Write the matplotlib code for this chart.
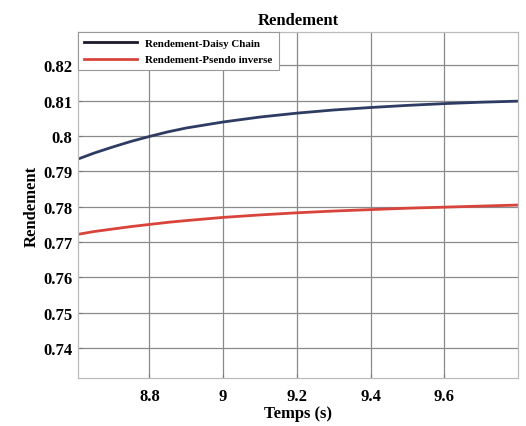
import numpy as np
import matplotlib
matplotlib.use("Agg")
import matplotlib.pyplot as plt

# time samples (s) and efficiency of the two controllers
temps = [8.606, 8.65, 8.7, 8.75, 8.8, 8.85, 8.9, 9.0, 9.1, 9.2, 9.3, 9.4, 9.5, 9.6, 9.7, 9.8]
rend_daisy = [0.7935, 0.7952, 0.7969, 0.7985, 0.7999, 0.8012, 0.8023, 0.8040, 0.8054,
              0.8065, 0.8074, 0.8081, 0.8087, 0.8092, 0.8096, 0.8099]
rend_pseudo = [0.7722, 0.7730, 0.7737, 0.7744, 0.7750, 0.7756, 0.7761, 0.7770, 0.7777,
               0.7783, 0.7788, 0.7792, 0.7796, 0.7799, 0.7802, 0.7805]

xticks = [8.8, 9.0, 9.2, 9.4, 9.6]
xtick_labels = ["8.8", "9", "9.2", "9.4", "9.6"]
yticks = [0.74, 0.75, 0.76, 0.77, 0.78, 0.79, 0.80, 0.81, 0.82]
ytick_labels = ["0.74", "0.75", "0.76", "0.77", "0.78", "0.79", "0.8", "0.81", "0.82"]

plt.rcParams['font.family'] = ['Liberation Serif', 'DejaVu Serif']
plt.rcParams['font.weight'] = 'bold'

fig = plt.figure(figsize=(5.26, 4.27), dpi=100)
ax = fig.add_axes([0.148, 0.112, 0.837, 0.811])

ax.plot(temps, rend_daisy, color='#2e3b63', linewidth=2.0, label='Rendement-Daisy Chain')
ax.plot(temps, rend_pseudo, color='#d8443c', linewidth=2.0, label='Rendement-Psendo inverse')

ax.set_xlim(8.606, 9.8)
ax.set_ylim(0.7315, 0.8295)
ax.set_xticks(xticks)
ax.set_xticklabels(xtick_labels, fontsize=12, fontweight='bold')
ax.set_yticks(yticks)
ax.set_yticklabels(ytick_labels, fontsize=12, fontweight='bold')
ax.tick_params(axis='x', direction='in', length=3, color='#777777', pad=7)
ax.tick_params(axis='y', direction='in', length=3, color='#777777', pad=4)

ax.grid(True, color='#8a8a8a', linewidth=0.9, linestyle='-')
for s in ax.spines.values():
    s.set_color('#bbbbbb')
    s.set_linewidth(0.9)

ax.set_title('Rendement', fontsize=12, fontweight='bold', pad=6)
ax.set_xlabel('Temps (s)', fontsize=12, fontweight='bold', labelpad=1)
ax.set_ylabel('Rendement', fontsize=12, fontweight='bold', labelpad=2)

leg = ax.legend(loc='upper left', prop={'weight': 'bold', 'size': 7.9},
                frameon=True, fancybox=False, borderaxespad=0.0,
                handlelength=4.8, borderpad=0.55, labelspacing=0.65)
leg.get_frame().set_edgecolor('#999999')
leg.get_frame().set_linewidth(0.8)
leg.get_frame().set_alpha(1.0)
leg.get_lines()[0].set_color('#1a1a2a')

fig.savefig('out.png', dpi=100)
